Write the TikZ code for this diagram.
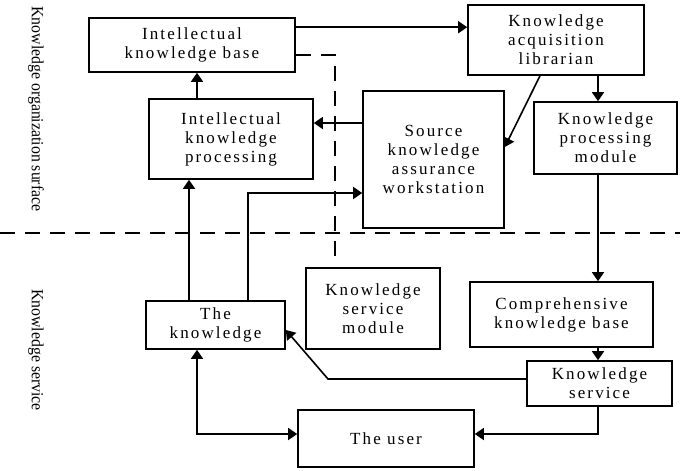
\documentclass[tikz,border=0pt]{standalone}
\usepackage{fontspec}
\setmainfont{Liberation Serif}
\newfontfamily\boxfont[LetterSpace=12.5]{Liberation Serif}
\usetikzlibrary{arrows.meta,calc}

\begin{document}
\begin{tikzpicture}[x=1pt,y=-1pt,line width=1.6pt,
  box/.style={draw,line width=1.6pt,align=center,inner sep=0pt,
    font=\boxfont\fontsize{17}{19}\selectfont},
  arr/.style={-{Triangle[length=9pt,width=12pt]}},
  biarr/.style={{Triangle[length=9pt,width=12pt]}-{Triangle[length=9pt,width=12pt]}},
  sep/.style={dash pattern=on 15pt off 10pt,line width=1.6pt},
  side/.style={rotate=-90,font=\fontsize{17}{19}\selectfont}]
\useasboundingbox (0,0) rectangle (680,471);

% boxes
\node[box,minimum width=206pt,minimum height=54pt] (ikb) at (192,45) {Intellectual\\knowledge base};
\node[box,minimum width=164pt,minimum height=80pt] (ikp) at (231,139) {Intellectual\\knowledge\\processing};
\node[box,minimum width=176pt,minimum height=70pt] (kal) at (556,40) {Knowledge\\acquisition\\librarian};
\node[box,minimum width=141pt,minimum height=137pt] (skaw) at (433.5,159.5) {Source\\knowledge\\assurance\\workstation};
\node[box,minimum width=143pt,minimum height=72pt] (kpm) at (605.5,138) {Knowledge\\processing\\module};
\node[box,minimum width=183pt,minimum height=65pt] (ckb) at (561.5,314.5) {Comprehensive\\knowledge base};
\node[box,minimum width=145pt,minimum height=45pt] (ks) at (599.5,383.5) {Knowledge\\service};
\node[box,minimum width=139pt,minimum height=48pt] (tk) at (215.5,325) {The\\knowledge};
\node[box,minimum width=134pt,minimum height=81pt] (ksm) at (373,308.5) {Knowledge\\service\\module};
\node[box,minimum width=176pt,minimum height=57pt] (user) at (386,438.5) {The user};

% side labels (condensed along the reading direction)
\node[side] (lorg) at (36,109) {\scalebox{0.93}[1]{Knowledge organization surface}};
\node[side] (lsrv) at (36,350) {\scalebox{0.93}[1]{Knowledge service}};

% layer separator
\coordinate (sepl) at (0,233);
\coordinate (sepr) at (680,233);
\draw[sep] (sepl) -- (sepr);

% dashed link from the intellectual knowledge base
\coordinate (dashend) at (335,262);
\draw[sep] ([yshift=-10pt]ikb.east) -| (dashend);

% connectors
\draw[arr] ([yshift=-10pt]ikb.north east) -- ([yshift=-10pt]ikb.north east -| kal.west);
\draw[arr] (ikp.north -| 197,0) -- (ikb.south -| 197,0);
\draw[arr] (skaw.west |- 0,123) -- (ikp.east |- 0,123);
\draw[arr] (tk.north -| 189,0) -- (ikp.south -| 189,0);
\draw[arr] (tk.north -| 248,0) |- (skaw.west |- 0,193);
\draw[arr] (kal.south -| 540,0) -- (skaw.east |- 0,147);
\draw[arr] (kal.south -| 598,0) -- (kpm.north -| 598,0);
\draw[arr] (kpm.south -| 598,0) -- (ckb.north -| 598,0);
\draw[arr] (ckb.south -| 598,0) -- (ks.north -| 598,0);
\draw[arr] (ks.west |- 0,379) -- (328,379) -- (tk.east |- 0,330);
\draw[arr] (ks.south -| 598,0) |- (user.east |- 0,434);
\draw[biarr] (tk.south -| 197,0) |- (user.west |- 0,434);
\end{tikzpicture}
\end{document}
